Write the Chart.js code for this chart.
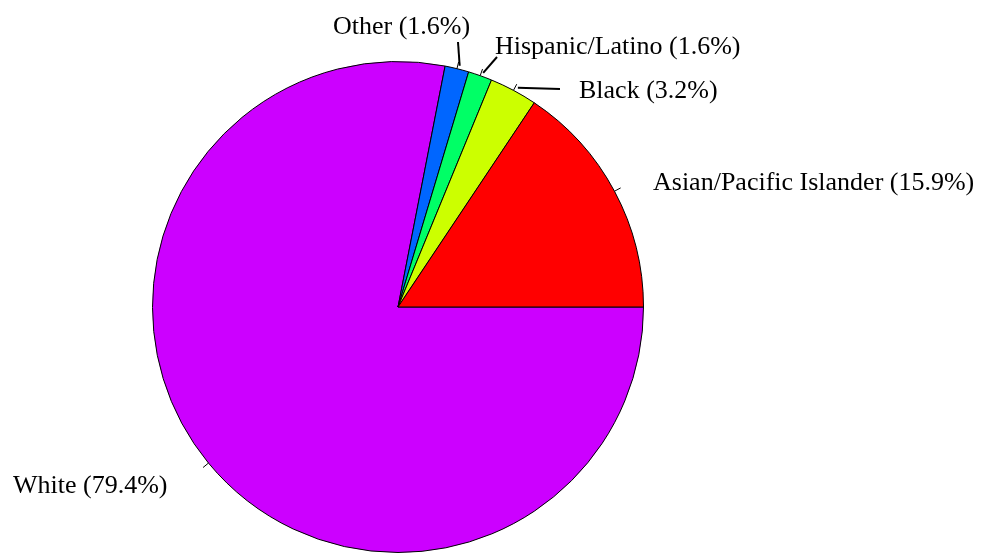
<!DOCTYPE html>
<html>
<head>
<meta charset="utf-8">
<script src="https://cdn.jsdelivr.net/npm/chart.js@4"></script>
<style>
html,body{margin:0;padding:0;background:#fff;}
#wrap{width:990px;height:554px;}
</style>
</head>
<body>
<div id="wrap"><canvas id="c" width="990" height="554"></canvas></div>
<script>
// Data (drawn clockwise from 3 o'clock)
const categories = ["White", "Other", "Hispanic/Latino", "Black", "Asian/Pacific Islander"];
const percentages = [79.4, 1.6, 1.6, 3.2, 15.9];
const sliceColors = ["#CC00FF", "#0066FF", "#00FF66", "#CCFF00", "#FF0000"];

// label layout (style only)
const labelLayout = {
  "White": {x: 13, y: 493, lead: null},
  "Other": {x: 333, y: 34, lead: [458, 42]},
  "Hispanic/Latino": {x: 495, y: 54, lead: [497, 57]},
  "Black": {x: 579, y: 98, lead: [560, 89]},
  "Asian/Pacific Islander": {x: 653, y: 190, lead: null}
};

const labelPlugin = {
  id: 'pieLabels',
  afterDatasetsDraw(chart) {
    const ctx = chart.ctx;
    const meta = chart.getDatasetMeta(0);
    ctx.save();
    ctx.strokeStyle = '#000';
    ctx.lineWidth = 1;
    ctx.fillStyle = '#000';
    ctx.font = '26px "Liberation Serif", "Times New Roman", serif';
    ctx.textBaseline = 'alphabetic';
    meta.data.forEach((arc, i) => {
      const p = arc.getProps(['x','y','startAngle','endAngle','outerRadius'], true);
      const mid = (p.startAngle + p.endAngle) / 2;
      const r = p.outerRadius;
      const ex = p.x + Math.cos(mid) * r, ey = p.y + Math.sin(mid) * r;
      const tx = p.x + Math.cos(mid) * (r + 7), ty = p.y + Math.sin(mid) * (r + 7);
      ctx.beginPath();
      ctx.moveTo(ex, ey);
      ctx.lineTo(tx, ty);
      ctx.stroke();
      const name = categories[i];
      const lay = labelLayout[name];
      if (lay.lead) {
        const sx = p.x + Math.cos(mid) * (r + 3), sy = p.y + Math.sin(mid) * (r + 3);
        ctx.beginPath();
        ctx.lineWidth = 2;
        ctx.moveTo(sx + (name === 'Black' ? 3 : 2), sy);
        ctx.lineTo(lay.lead[0], lay.lead[1]);
        ctx.stroke();
        ctx.lineWidth = 1;
      }
      ctx.fillText(name + ' (' + percentages[i].toFixed(1) + '%)', lay.x, lay.y);
    });
    ctx.restore();
  }
};

new Chart(document.getElementById('c'), {
  type: 'pie',
  data: {
    labels: categories,
    datasets: [{
      data: percentages,
      backgroundColor: sliceColors,
      borderColor: '#000',
      borderWidth: 1
    }]
  },
  options: {
    responsive: false,
    animation: false,
    rotation: 90,
    layout: {padding: {left: 152, right: 346, top: 61, bottom: 1}},
    plugins: {legend: {display: false}, tooltip: {enabled: false}}
  },
  plugins: [labelPlugin]
});
</script>
</body>
</html>
